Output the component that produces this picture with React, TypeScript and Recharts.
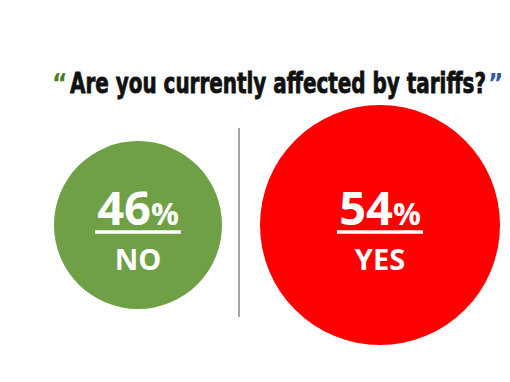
import React from "react";
import { ScatterChart, Scatter, XAxis, YAxis, ZAxis, Cell } from "recharts";

const answers = ["NO", "YES"];
const shares = [46, 54];
const question = "Are you currently affected by tariffs?";

const COLORS = ["#70a045", "#ff0000"];
const data = answers.map((answer, i) => ({ answer, share: shares[i], question }));

const NUM_FONT = "'Open Sans', 'Noto Sans', sans-serif";
const TITLE_FONT = "'Liberation Sans Narrow', 'DejaVu Sans Condensed', 'Arial Narrow', sans-serif";

const Bubble = (props: any) => {
  const { cx, cy, width, size, fill, payload } = props;
  const r = width ? width / 2 : Math.sqrt(size / Math.PI);
  return (
    <g>
      <circle cx={cx} cy={cy} r={r} fill={fill} />
      <text
        x={cx}
        y={cy}
        textAnchor="middle"
        fill="#fff"
        fontFamily={NUM_FONT}
        fontWeight={700}
      >
        <tspan fontSize={47}>{payload.share}</tspan>
        <tspan fontSize={31}>%</tspan>
      </text>
      <line x1={cx - 43} x2={cx + 43} y1={cy + 7} y2={cy + 7} stroke="#fff" strokeWidth={3.5} />
      <text
        x={cx}
        y={cy + 45}
        textAnchor="middle"
        fill="#fff"
        fontFamily={NUM_FONT}
        fontWeight={700}
        fontSize={29}
      >
        {payload.answer}
      </text>
    </g>
  );
};

export default function App() {
  return (
    <div style={{ position: "absolute", left: 0, top: 0, width: 510, height: 382, background: "#fff" }}>
      <div
        style={{ position: "absolute", left: 238, top: 128, width: 2, height: 189, background: "#a6a6a6" }}
      />
      <div style={{ position: "absolute", left: 0, top: 0 }}>
        <ScatterChart width={510} height={382} margin={{ top: 68, right: 9, bottom: 0, left: 17 }}>
          <XAxis type="category" dataKey="answer" allowDuplicatedCategory={false} hide />
          <YAxis type="category" dataKey="question" allowDuplicatedCategory={false} hide />
          <ZAxis type="number" dataKey="share" domain={[46, 54]} range={[22167, 45239]} />
          <Scatter data={data} shape={Bubble} isAnimationActive={false}>
            {data.map((d, i) => (
              <Cell key={d.answer} fill={COLORS[i % COLORS.length]} />
            ))}
          </Scatter>
        </ScatterChart>
      </div>
      <svg width={510} height={110} style={{ position: "absolute", left: 0, top: 0 }}>
        <text x={52} y={93} fontSize={26} fontWeight={700} fontFamily={TITLE_FONT} fill="#4f7d2a">
          {"\u201C"}
        </text>
        {/* condensed heavy title: squeeze the fallback font horizontally */}
        <g transform="translate(70,93) scale(0.765,1)">
          <text
            x={0}
            y={0}
            fontSize={29}
            fontWeight={700}
            fontFamily={TITLE_FONT}
            fill="#111"
            stroke="#111"
            strokeWidth={0.8}
          >
            {question}
          </text>
        </g>
        <text x={488} y={93} fontSize={26} fontWeight={700} fontFamily={TITLE_FONT} fill="#2e5aa8">
          {"\u201D"}
        </text>
      </svg>
    </div>
  );
}
